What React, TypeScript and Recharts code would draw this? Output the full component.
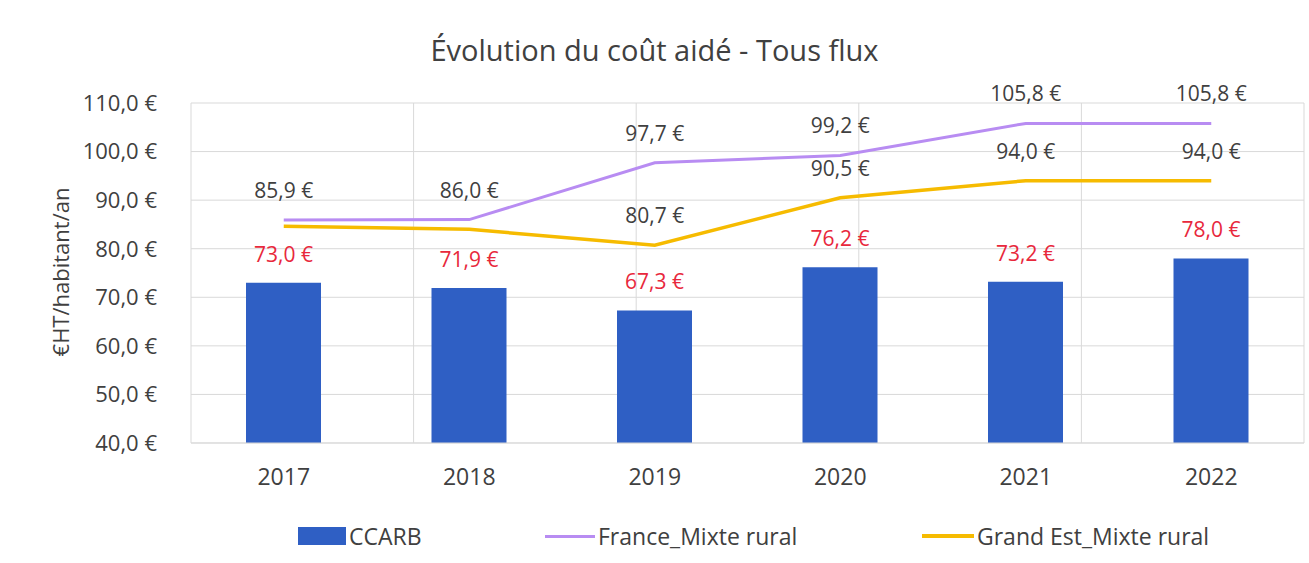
import React from 'react';
import { ComposedChart, Bar, Line, XAxis, YAxis, CartesianGrid, LabelList } from 'recharts';

const years = ['2017', '2018', '2019', '2020', '2021', '2022'];
const ccarb = [73.0, 71.9, 67.3, 76.2, 73.2, 78.0];
const france = [85.9, 86.0, 97.7, 99.2, 105.8, 105.8];
const grandEst = [84.6, 84.0, 80.7, 90.5, 94.0, 94.0];
const grandEstLabelShown = [false, false, true, true, true, true];
const yTicks = [40, 50, 60, 70, 80, 90, 100, 110];
const gridTicks = [0, 1, 2, 3, 4, 5, 6];

const data = years.map((y, i) => ({
  year: y,
  CCARB: ccarb[i],
  France: france[i],
  GrandEst: grandEst[i],
}));

const FONT = "'Open Sans', 'Noto Sans', sans-serif";
const TXT = '#404040';
const fmt = (v: number) => v.toFixed(1).replace('.', ',') + ' €';

const makeLabel = (color: string, dy: number, filter?: boolean[]) => (props: any) => {
  const { x, y, width, value, index } = props;
  if (filter && !filter[index]) return null;
  const cx = width ? x + width / 2 : x;
  return (
    <text x={cx} y={y - dy} textAnchor="middle" fill={color} fontSize={21} fontFamily={FONT}>
      {fmt(value)}
    </text>
  );
};

const legendItem: React.CSSProperties = { position: 'absolute', top: 520, display: 'flex', alignItems: 'center', fontFamily: FONT, fontSize: 23, color: TXT, whiteSpace: 'nowrap' };

export default function App() {
  return (
    <div style={{ position: 'absolute', left: 0, top: 0, width: 1309, height: 563, background: '#fff' }}>
      <div style={{ position: 'absolute', top: 30, left: 0, width: 1309, textAlign: 'center', fontFamily: FONT, fontSize: 29, color: TXT }}>
        Évolution du coût aidé - Tous flux
      </div>
      <div style={{ position: 'absolute', left: 60, top: 272, transform: 'translate(-50%, -50%) rotate(-90deg)', fontFamily: FONT, fontSize: 22, color: TXT, whiteSpace: 'nowrap' }}>
        €HT/habitant/an
      </div>
      <div style={{ ...legendItem, left: 298 }}>
        <div style={{ width: 48, height: 18, background: '#2f5fc4', marginRight: 3 }} />
        <span>CCARB</span>
      </div>
      <div style={{ ...legendItem, left: 545 }}>
        <div style={{ width: 50, height: 3, background: '#b88cf2', marginRight: 3 }} />
        <span>France_Mixte rural</span>
      </div>
      <div style={{ ...legendItem, left: 922 }}>
        <div style={{ width: 52, height: 4, background: '#f6bb00', marginRight: 3 }} />
        <span>Grand Est_Mixte rural</span>
      </div>
      <div style={{ position: 'absolute', left: 0, top: 0 }}>
        <ComposedChart
          width={1309}
          height={563}
          data={data}
          margin={{ top: 103, right: 5, bottom: 80, left: 91 }}
        >
          <XAxis xAxisId="grid" type="number" domain={[0, 6]} ticks={gridTicks} hide />
          <CartesianGrid stroke="#d9d9d9" xAxisId="grid" />
          <XAxis
            dataKey="year"
            axisLine={{ stroke: '#d9d9d9' }}
            tickLine={false}
            tick={{ fontSize: 23, fill: TXT, fontFamily: FONT }}
            tickMargin={20}
            height={40}
          />
          <YAxis
            domain={[40, 110]}
            ticks={yTicks}
            width={100}
            axisLine={false}
            tickLine={false}
            tickMargin={28}
            tickFormatter={(v: number) => fmt(v)}
            tick={{ fontSize: 22, fill: TXT, fontFamily: FONT }}
          />
          <Bar dataKey="CCARB" fill="#2f5fc4" barSize={75} isAnimationActive={false}>
            <LabelList dataKey="CCARB" content={makeLabel('#e8283c', 21)} />
          </Bar>
          <Line dataKey="France" stroke="#b88cf2" strokeWidth={3} dot={false} isAnimationActive={false}>
            <LabelList dataKey="France" content={makeLabel(TXT, 22)} />
          </Line>
          <Line dataKey="GrandEst" stroke="#f6bb00" strokeWidth={3.5} dot={false} isAnimationActive={false}>
            <LabelList dataKey="GrandEst" content={makeLabel(TXT, 22, grandEstLabelShown)} />
          </Line>
        </ComposedChart>
      </div>
    </div>
  );
}
